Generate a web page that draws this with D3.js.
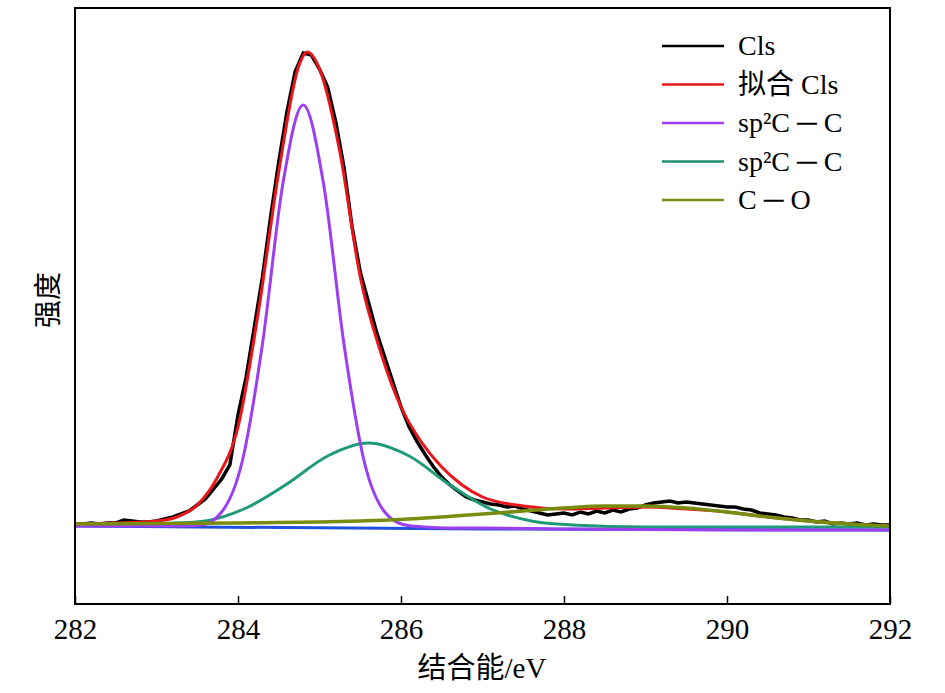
<!DOCTYPE html>
<html><head><meta charset="utf-8">
<script src="https://cdn.jsdelivr.net/npm/d3@7"></script>
<style>body{margin:0;background:#fff}</style></head>
<body><svg id="c" width="945" height="693"></svg>
<script>
const xTicks=[282,284,286,288,290,292];
const blackX=d3.range(0,101).map(i=>282+i*0.1);
const blackY=[3,3,4,3,4,4,7,6,5,5,6,
8,10,13,16,22,28,38,48,62,
112,150,200,250,310,365,415,455,474,472,
458,440,405,360,300,255,225,195,170,145,
120,100,85,72,60,50,42,36,30,27,
25,23,22,20,21,18,16,14,12,13,
14,12,15,13,16,14,17,15,18,19,
22,24,25,26,24,25,24,23,22,21,
20,20,18,17,14,13,12,10,9,7,
7,5,6,3,4,3,4,2,3,2,2];
const fitX=[282,282.5,283,283.25,283.5,283.75,284,284.25,284.5,284.75,284.85,285,285.25,285.5,285.75,286,286.25,286.5,286.75,287,287.5,288,288.5,289,289.5,290,290.5,291,291.5,292];
const fitY=[3,4,6,10,22,50,100,215,355,462,475,458,375,250,175,120,85,60,42,30,21,18,19,20,18,15,10,6,3,1];
const sp2aX=[282,283,283.3,283.55,283.8,284.05,284.3,284.55,284.8,285.05,285.3,285.55,285.8,286.05,286.3,286.6,287,288,290,292];
const sp2aY=[1,1,1,2,15,65,183,343,422,343,183,65,15,2,0,-1,-1,-2,-3,-3];
const sp2bX=[282,283,283.1,283.6,284.1,284.6,285.1,285.6,286.1,286.6,287.1,287.6,288.1,289,292];
const sp2bY=[2,2,3,6,19,43,71,84,71,42,18,6,2,0,0];
const coX=[282,283,284,285,285.5,286,286.5,287,287.5,288,288.5,289,289.5,290,290.5,291,291.5,292];
const coY=[3,3.5,4,5,6,7.5,10,13,16,19,21,21,19,15,10,6,3,1];
const baseX=[282,287,292];
const baseY=[1,-2,-3];
const legend=[["Cls","#000"],["拟合 Cls","#e8151b"],["sp²C ─ C","#9b3ff0"],["sp²C ─ C","#1e8f70"],["C ─ O","#7a8c10"]];

const svg=d3.select("#c");
const L=75,R=890,T=8,B=604;
const x=d3.scaleLinear().domain([282,292]).range([L,R]);
const y=d3.scaleLinear().domain([-77,519]).range([B,T]);
const font='"Liberation Serif","Noto Sans CJK SC",serif';
const g=svg.append("g");
function draw(xs,ys,c,w,straight){const pts=xs.map((v,i)=>[v,ys[i]]);
const ln=d3.line().x(d=>x(d[0])).y(d=>y(d[1]));if(!straight)ln.curve(d3.curveMonotoneX);
g.append("path").attr("d",ln(pts)).attr("fill","none").attr("stroke",c).attr("stroke-width",w);}
draw(baseX,baseY,"#2050e0",3);
draw(blackX,blackY,"#000",3.5,true);
draw(fitX,fitY,"#e8151b",3);
draw(sp2bX,sp2bY,"#1e9a78",3);
draw(sp2aX,sp2aY,"#9b3ff0",3);
draw(coX,coY,"#7a8c10",3.5);
svg.append("rect").attr("x",L).attr("y",T).attr("width",R-L).attr("height",B-T).attr("fill","none").attr("stroke","#000").attr("stroke-width",2);
const ax=svg.append("g").attr("transform",`translate(0,${B})`).call(d3.axisBottom(x).tickValues(xTicks).tickSizeInner(-8).tickSizeOuter(0).tickPadding(14));
ax.select(".domain").remove();
ax.selectAll("line").attr("stroke-width",1.5);
ax.selectAll("text").style("font-family",font).style("font-size","29px").attr("fill","#000");
svg.append("text").attr("x",482).attr("y",678).attr("text-anchor","middle").style("font-family",font).style("font-size","29px").text("结合能/eV");
svg.append("text").attr("transform","translate(58,300) rotate(-90)").attr("text-anchor","middle").style("font-family",font).style("font-size","28px").text("强度");
legend.forEach((d,i)=>{const yy=46+i*38.5;
svg.append("line").attr("x1",662).attr("x2",724).attr("y1",yy).attr("y2",yy).attr("stroke",d[1]).attr("stroke-width",2.5);
svg.append("text").attr("x",738).attr("y",yy+9).style("font-family",font).style("font-size","28px").text(d[0]);});
</script></body></html>
